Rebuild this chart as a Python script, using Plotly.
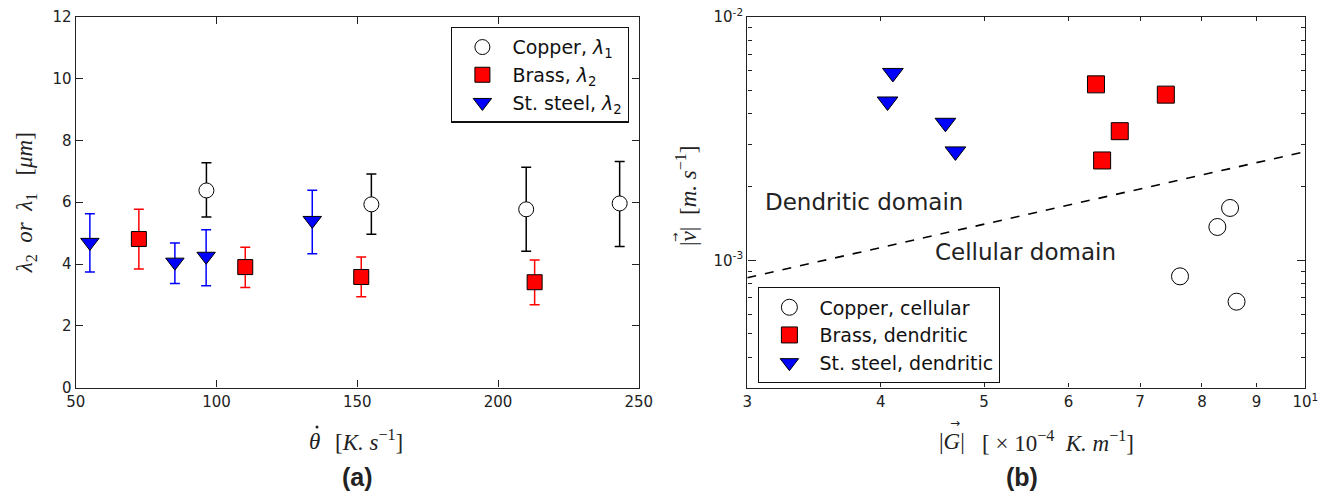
import plotly.graph_objects as go

# ---------------- data: panel (a) ----------------
cu_x = [96.4, 155.0, 210.0, 243.2]
cu_y = [6.38, 5.93, 5.77, 5.96]
cu_hi = [7.28, 6.91, 7.13, 7.32]
cu_lo = [5.52, 4.96, 4.41, 4.57]

br_x = [72.4, 110.2, 151.4, 213.0]
br_y = [4.81, 3.90, 3.58, 3.41]
br_hi = [5.77, 4.54, 4.23, 4.13]
br_lo = [3.84, 3.24, 2.94, 2.68]

ss_x = [55.0, 85.2, 96.3, 134.0]
ss_y = [4.70, 4.06, 4.25, 5.41]
ss_hi = [5.63, 4.68, 5.11, 6.39]
ss_lo = [3.74, 3.37, 3.30, 4.33]

# ---------------- data: panel (b) ----------------
cu_G = [8.50, 8.27, 7.63, 8.62]
cu_v = [1.64e-3, 1.37e-3, 8.59e-4, 6.76e-4]
br_G = [6.365, 7.40, 6.70, 6.45]
br_v = [5.28e-3, 4.79e-3, 3.39e-3, 2.57e-3]
ss_G = [4.107, 4.06, 4.60, 4.70]
ss_v = [5.88e-3, 4.49e-3, 3.67e-3, 2.80e-3]
line_G = [3.0, 10.0]
line_v = [8.48e-4, 2.795e-3]

x_ticks_a = [50, 100, 150, 200, 250]
y_ticks_a = [0, 2, 4, 6, 8, 10, 12]
x_ticks_b = [3, 4, 5, 6, 7, 8, 9, 10]
x_labels_b = ["3", "4", "5", "6", "7", "8", "9", "10<sup>1</sup>"]
y_ticks_b = [1e-3, 1e-2]
y_labels_b = ["10<sup>-3</sup>", "10<sup>-2</sup>"]
y_minor_b = [3e-4, 4e-4, 5e-4, 6e-4, 7e-4, 8e-4, 9e-4,
             2e-3, 3e-3, 4e-3, 5e-3, 6e-3, 7e-3, 8e-3, 9e-3]

W, H = 1327, 504
SANS = "DejaVu Sans"
SERIF = "Liberation Serif"
NB = "\u00a0"
INK = "#222"


def err(y, hi, lo):
    return [h - v for h, v in zip(hi, y)], [v - l for v, l in zip(y, lo)]


def px(x):
    return x / W


def py(y):
    return 1 - y / H


fig = go.Figure()

for i, (name, xs, ys, hi, lo, sym, fill, edge, ecol) in enumerate([
    ("Copper, <i>λ</i><sub>1</sub>", cu_x, cu_y, cu_hi, cu_lo, "circle", "white", "black", "black"),
    ("Brass, <i>λ</i><sub>2</sub>", br_x, br_y, br_hi, br_lo, "square", "red", "black", "red"),
    ("St. steel, <i>λ</i><sub>2</sub>", ss_x, ss_y, ss_hi, ss_lo, "triangle-down", "blue", "black", "blue"),
]):
    up, dn = err(ys, hi, lo)
    fig.add_trace(go.Scatter(
        x=xs, y=ys, mode="markers", name=name, xaxis="x", yaxis="y", legend="legend",
        legendgroup="a%d" % i,
        marker=dict(symbol=sym, size=15 if sym != "triangle-down" else 16, color=fill,
                    line=dict(color=edge, width=1)),
        error_y=dict(type="data", array=up, arrayminus=dn, color=ecol, thickness=1.5, width=5),
    ))

fig.add_trace(go.Scatter(
    x=line_G, y=line_v, mode="lines", showlegend=False, xaxis="x2", yaxis="y2",
    line=dict(color="black", width=1.6, dash="dash"),
))

for i, (name, xs, ys, sym, fill) in enumerate([
    ("Copper, cellular", cu_G, cu_v, "circle", "white"),
    ("Brass, dendritic", br_G, br_v, "square", "red"),
    ("St. steel, dendritic", ss_G, ss_v, "triangle-down", "blue"),
]):
    fig.add_trace(go.Scatter(
        x=xs, y=ys, mode="markers", name=name, xaxis="x2", yaxis="y2", legend="legend2",
        legendgroup="b%d" % i,
        marker=dict(symbol=sym, size=17 if sym != "triangle-down" else 18, color=fill,
                    line=dict(color="black", width=1)),
    ))

axcommon = dict(showline=True, linecolor=INK, linewidth=1.4, mirror="ticks",
                ticks="inside", tickcolor=INK, showgrid=False, zeroline=False,
                tickfont=dict(family=SANS, size=15, color=INK), automargin=False)

ydom = [py(387.6), py(16.8)]
tfont = dict(family=SERIF, size=23, color=INK)


def ann(text, x, y, size=23, family=SERIF, xanchor="center", angle=0):
    return dict(text=text, x=px(x), y=py(y), xref="paper", yref="paper",
                xanchor=xanchor, yanchor="middle", showarrow=False, textangle=angle,
                font=dict(family=family, size=size, color=INK))


annotations = [
    ann("Dendritic domain", 763, 202, 23, SANS, "left"),
    ann("Cellular domain", 933, 252, 23, SANS, "left"),
    ann("<b>(a)</b>", 357, 477, 25, "Liberation Sans"),
    ann("<b>(b)</b>", 1022, 477, 25, "Liberation Sans"),
    # x title of panel (a)
    ann("<i>θ</i>", 314, 441),
    ann("[<i>K.</i>" + NB + "<i>s</i><sup>−1</sup>]", 333, 440, xanchor="left"),
    # x title of panel (b)
    ann("|<i>G</i>|", 952, 441),
    ann("→", 955, 423, 12, SANS),
    ann("[" + NB + "×" + NB + "10<sup>−4</sup>" + NB * 2 + "<i>K.</i>" + NB + "<i>m</i><sup>−1</sup>]",
        980, 441, xanchor="left"),
    # y title of panel (b)
    ann("|<i>v</i>|", 688, 237, angle=-90),
    ann("→", 675, 238, 11, SANS, angle=-90),
    ann("[<i>m.</i>" + NB + "<i>s</i><sup>−1</sup>]", 686, 180, angle=-90),
]

shapes = [
    dict(type="circle", xref="paper", yref="paper", fillcolor=INK, line=dict(width=0),
         x0=px(315.5), x1=px(318.5), y0=py(428.5), y1=py(425.5)),
]

fig.update_layout(
    width=W, height=H,
    margin=dict(l=0, r=0, t=0, b=0),
    paper_bgcolor="white", plot_bgcolor="white",
    xaxis=dict(domain=[px(75.8), px(638.8)], range=[50, 250], tickvals=x_ticks_a,
               ticklen=7, anchor="y", **axcommon),
    yaxis=dict(domain=ydom, range=[0, 12], tickvals=y_ticks_a, ticklen=7, anchor="x",
               title=dict(text="<i>λ</i><sub>2</sub>" + NB * 2 + "<i>or</i>" + NB * 2
                          + "<i>λ</i><sub>1</sub>" + NB * 3 + "[<i>μm</i>]",
                          font=tfont, standoff=13),
               **axcommon),
    xaxis2=dict(domain=[px(747.3), px(1305.4)], type="log", range=[0.47712, 1.0],
                tickvals=x_ticks_b, ticktext=x_labels_b, ticklen=4, anchor="y2",
                **axcommon),
    yaxis2=dict(domain=ydom, type="log", range=[-3.523, -2.0],
                tickvals=y_ticks_b, ticktext=y_labels_b, ticklen=8, anchor="x2",
                minor=dict(tickvals=y_minor_b, ticklen=4, ticks="inside", tickcolor=INK),
                **axcommon),
    legend=dict(x=px(629), xanchor="right", y=py(26.8), yanchor="top",
                bgcolor="white", bordercolor="#111", borderwidth=1.4, tracegroupgap=0,
                font=dict(family=SANS, size=19, color="#111"), itemwidth=50),
    legend2=dict(x=px(758), xanchor="left", y=py(287), yanchor="top",
                 bgcolor="white", bordercolor="#111", borderwidth=1.4, tracegroupgap=0,
                 font=dict(family=SANS, size=19, color="#111"), itemwidth=50),
    annotations=annotations,
    shapes=shapes,
)

fig.write_html("out.html", config={"displayModeBar": False},
               post_script="document.body.style.margin='0';")
